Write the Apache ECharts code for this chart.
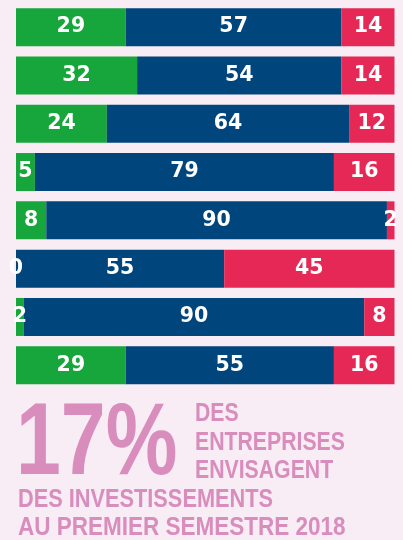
<!DOCTYPE html>
<html><head><meta charset="utf-8">
<script src="https://cdn.jsdelivr.net/npm/echarts@6/dist/echarts.min.js"></script>
<style>html,body{margin:0;padding:0;background:#f8ecf5;}#c{width:403px;height:540px;}</style>
</head><body><div id="c"></div>
<script>
var categories = ['r1','r2','r3','r4','r5','r6','r7','r8'];
var greenValues = [29, 32, 24, 5, 8, 0, 2, 29];
var blueValues  = [57, 54, 64, 79, 90, 55, 90, 55];
var redValues   = [14, 14, 12, 16, 2, 45, 8, 16];

var chart = echarts.init(document.getElementById('c'));
var lbl = {show:true, position:'inside', color:'#ffffff', fontFamily:'DejaVu Sans', fontWeight:'bold', fontSize:20.5};
function s(name, data, color){
  return {name:name, type:'bar', stack:'t', data:data, barWidth:38,
    itemStyle:{color:color}, label:lbl, emphasis:{disabled:true}};
}
var pink = '#d98dbd';
var tf = 'bold 25px "Liberation Sans", Arial, sans-serif';
chart.setOption({
  backgroundColor:'#f8ecf5',
  animation:false,
  grid:{left:16, right:8.5, top:3, height:386.4},
  xAxis:{type:'value', min:0, max:100, show:false},
  yAxis:{type:'category', data:categories, inverse:true, show:false},
  series:[s('a', greenValues, '#17a63b'), s('b', blueValues, '#00457b'), s('c', redValues, '#e62856')],
  graphic:[
    {type:'text', x:16, y:395, scaleX:0.79, style:{text:'17%', font:'bold 102px "Liberation Sans", Arial, sans-serif', fill:pink, textVerticalAlign:'top'}},
    {type:'text', x:195, y:402, scaleX:0.85, style:{text:'DES', font:tf, fill:pink, textVerticalAlign:'top'}},
    {type:'text', x:195, y:430.5, scaleX:0.85, style:{text:'ENTREPRISES', font:tf, fill:pink, textVerticalAlign:'top'}},
    {type:'text', x:195, y:459, scaleX:0.85, style:{text:'ENVISAGENT', font:tf, fill:pink, textVerticalAlign:'top'}},
    {type:'text', x:18, y:487.5, scaleX:0.87, style:{text:'DES INVESTISSEMENTS', font:tf, fill:pink, textVerticalAlign:'top'}},
    {type:'text', x:18, y:516, scaleX:0.9, style:{text:'AU PREMIER SEMESTRE 2018', font:tf, fill:pink, textVerticalAlign:'top'}}
  ]
});
</script></body></html>
